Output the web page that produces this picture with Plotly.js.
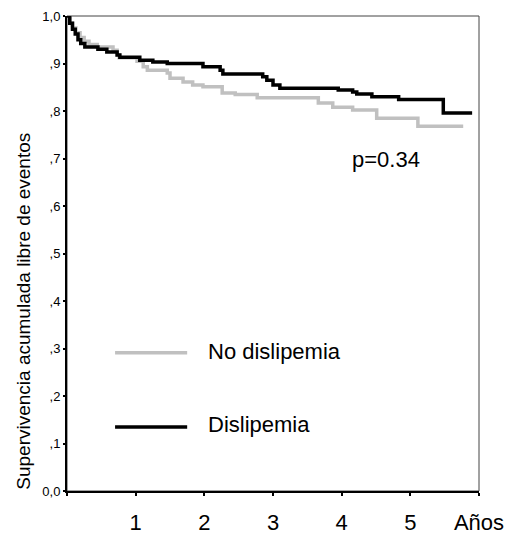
<!DOCTYPE html>
<html>
<head>
<meta charset="utf-8">
<script src="https://cdn.plot.ly/plotly-3.0.1.min.js"></script>
<style>html,body{margin:0;padding:0;background:#fff;}#chart{width:508px;height:537px;}</style>
</head>
<body>
<div id="chart"></div>
<script>
// Series names
const seriesNames = ["No dislipemia", "Dislipemia"];

// No dislipemia (gray) – event times (years) and cumulative survival
const noDisTimes = [0, 0.04, 0.08, 0.13, 0.19, 0.25, 0.32, 0.44, 0.67, 0.73, 0.76, 1.02, 1.11, 1.17, 1.46, 1.50, 1.69, 1.83, 1.98, 2.26, 2.45, 2.77, 3.66, 3.87, 4.16, 4.51, 5.11, 5.77];
const noDisSurv  = [1.0, 0.985, 0.975, 0.965, 0.955, 0.947, 0.940, 0.935, 0.928, 0.918, 0.912, 0.905, 0.893, 0.886, 0.880, 0.869, 0.861, 0.855, 0.851, 0.838, 0.835, 0.828, 0.817, 0.808, 0.802, 0.785, 0.768, 0.768];

// Dislipemia (black)
const disTimes = [0, 0.04, 0.08, 0.12, 0.16, 0.20, 0.26, 0.45, 0.58, 0.73, 0.77, 1.06, 1.25, 1.46, 1.98, 2.23, 2.27, 2.85, 2.91, 3.00, 3.10, 3.95, 4.16, 4.22, 4.44, 4.83, 5.48, 5.90];
const disSurv  = [1.0, 0.985, 0.972, 0.962, 0.950, 0.942, 0.935, 0.930, 0.924, 0.918, 0.913, 0.907, 0.903, 0.900, 0.893, 0.886, 0.878, 0.872, 0.865, 0.855, 0.848, 0.844, 0.840, 0.836, 0.830, 0.824, 0.796, 0.796];

// Axis ticks
const xTickVals = [0, 1, 2, 3, 4, 5, 6];
const xTickText = ["", "1", "2", "3", "4", "5", "Años"];
const yTickVals = [0, 0.1, 0.2, 0.3, 0.4, 0.5, 0.6, 0.7, 0.8, 0.9, 1.0];
const yTickText = ["0,0", ",1", ",2", ",3", ",4", ",5", ",6", ",7", ",8", ",9", "1,0"];

const yTitle = "Supervivencia acumulada libre de eventos";
const pText = "p=0.34";

const FONT = "Arial, 'Liberation Sans', sans-serif";
const GRAY = "#c0c0c0";
const BLACK = "#000000";

const traces = [
  {x: noDisTimes, y: noDisSurv, mode: "lines", line: {shape: "hv", color: GRAY, width: 3.5}, name: seriesNames[0], hoverinfo: "skip"},
  {x: disTimes, y: disSurv, mode: "lines", line: {shape: "hv", color: BLACK, width: 3.5}, name: seriesNames[1], hoverinfo: "skip"}
];

const layout = {
  width: 508, height: 537,
  margin: {l: 67, r: 29, t: 16, b: 46},
  paper_bgcolor: "#fff", plot_bgcolor: "#fff",
  showlegend: false,
  font: {family: FONT, color: "#000"},
  xaxis: {
    range: [0, 6], showgrid: false, zeroline: false,
    showline: true, linecolor: "#000", linewidth: 2,
    tickmode: "array", tickvals: xTickVals, ticktext: xTickText,
    ticks: "outside", ticklen: 3, tickwidth: 2, tickcolor: "#000",
    tickfont: {size: 22, family: FONT, color: "#000"},
    ticklabelstandoff: 8
  },
  yaxis: {
    range: [0, 1], showgrid: false, zeroline: false,
    showline: true, linecolor: "#000", linewidth: 2,
    tickmode: "array", tickvals: yTickVals, ticktext: yTickText,
    ticks: "outside", ticklen: 2, tickwidth: 2, tickcolor: "#000",
    tickfont: {size: 13, family: FONT, color: "#000"}
  },
  shapes: [
    {type: "rect", xref: "paper", yref: "paper", x0: 0, x1: 1, y0: 0, y1: 1, line: {color: "#444", width: 1}, layer: "below"},
    {type: "line", xref: "x", yref: "y", x0: 0.70, x1: 1.75, y0: 0.291, y1: 0.291, line: {color: GRAY, width: 3.5}},
    {type: "line", xref: "x", yref: "y", x0: 0.70, x1: 1.75, y0: 0.135, y1: 0.135, line: {color: BLACK, width: 3.5}}
  ],
  annotations: [
    {xref: "x", yref: "y", x: 2.02, y: 0.293, text: seriesNames[0], showarrow: false, xanchor: "left", yanchor: "middle", font: {size: 22, family: FONT, color: "#000"}},
    {xref: "x", yref: "y", x: 2.02, y: 0.140, text: seriesNames[1], showarrow: false, xanchor: "left", yanchor: "middle", font: {size: 22, family: FONT, color: "#000"}},
    {xref: "x", yref: "y", x: 4.65, y: 0.697, text: pText, showarrow: false, xanchor: "center", yanchor: "middle", font: {size: 22, family: FONT, color: "#000"}},
    {xref: "paper", yref: "paper", x: -0.105, y: 0.379, text: yTitle, showarrow: false, textangle: -90, xanchor: "center", yanchor: "middle", font: {size: 19, family: FONT, color: "#000"}}
  ]
};

Plotly.newPlot("chart", traces, layout, {staticPlot: true, displayModeBar: false});
</script>
</body>
</html>
